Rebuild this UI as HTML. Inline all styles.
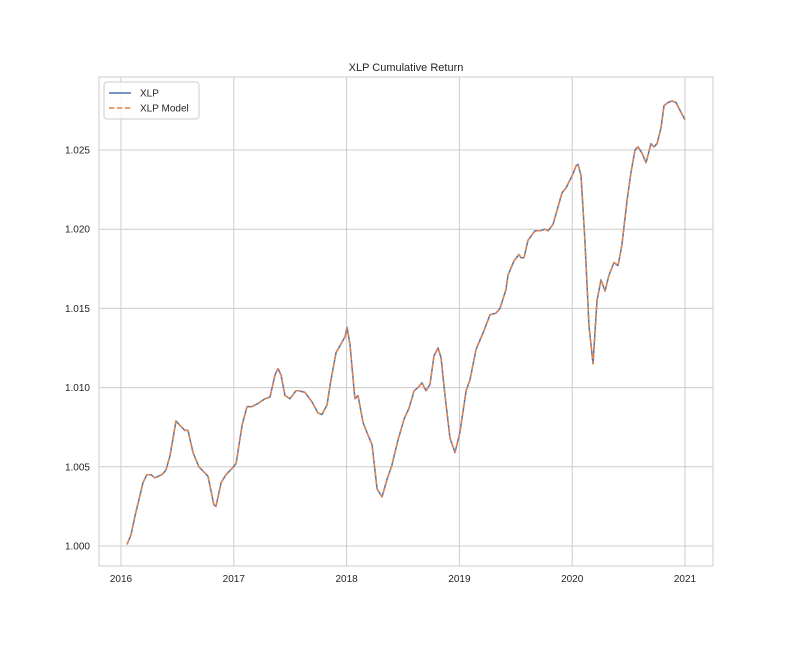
<!DOCTYPE html>
<html><head><meta charset="utf-8"><style>
body{margin:0;background:#fff;}
svg{display:block;font-family:"Liberation Sans",Arial,sans-serif;}
</style></head><body>
<svg id="chart" width="792" height="648"></svg>
<script>
const dates=[2016.053,2016.089,2016.124,2016.168,2016.195,2016.230,2016.266,2016.301,2016.328,2016.363,2016.399,2016.434,2016.488,2016.523,2016.567,2016.594,2016.638,2016.691,2016.745,2016.771,2016.824,2016.842,2016.887,2016.931,2016.984,2017.020,2017.073,2017.117,2017.161,2017.215,2017.277,2017.321,2017.365,2017.392,2017.418,2017.454,2017.498,2017.551,2017.578,2017.631,2017.693,2017.746,2017.782,2017.826,2017.862,2017.906,2017.986,2018.004,2018.030,2018.074,2018.101,2018.145,2018.190,2018.225,2018.270,2018.314,2018.358,2018.402,2018.456,2018.509,2018.553,2018.598,2018.633,2018.668,2018.704,2018.739,2018.775,2018.810,2018.837,2018.872,2018.917,2018.961,2019.005,2019.059,2019.094,2019.147,2019.218,2019.271,2019.324,2019.360,2019.413,2019.431,2019.484,2019.528,2019.546,2019.573,2019.608,2019.670,2019.715,2019.759,2019.786,2019.830,2019.874,2019.910,2019.945,2019.980,2020.007,2020.034,2020.051,2020.078,2020.113,2020.149,2020.184,2020.220,2020.255,2020.291,2020.326,2020.371,2020.406,2020.441,2020.486,2020.521,2020.557,2020.583,2020.619,2020.654,2020.699,2020.725,2020.752,2020.787,2020.814,2020.849,2020.885,2020.920,2020.964,2021.000];
const xlp=[1.0001,1.0007,1.0019,1.0032,1.0040,1.0045,1.0045,1.0043,1.0044,1.0045,1.0048,1.0057,1.0079,1.0076,1.0073,1.0073,1.0059,1.0050,1.0046,1.0044,1.0026,1.0025,1.0040,1.0045,1.0049,1.0052,1.0076,1.0088,1.0088,1.0090,1.0093,1.0094,1.0108,1.0112,1.0108,1.0095,1.0093,1.0098,1.0098,1.0097,1.0091,1.0084,1.0083,1.0089,1.0105,1.0122,1.0132,1.0138,1.0127,1.0093,1.0095,1.0078,1.0070,1.0064,1.0036,1.0031,1.0042,1.0051,1.0067,1.0080,1.0087,1.0098,1.0100,1.0103,1.0098,1.0102,1.0120,1.0125,1.0119,1.0095,1.0068,1.0059,1.0072,1.0098,1.0105,1.0124,1.0136,1.0146,1.0147,1.0150,1.0162,1.0171,1.0180,1.0184,1.0182,1.0182,1.0193,1.0199,1.0199,1.0200,1.0199,1.0203,1.0214,1.0223,1.0226,1.0231,1.0235,1.0240,1.0241,1.0234,1.0193,1.0139,1.0115,1.0155,1.0168,1.0161,1.0171,1.0179,1.0177,1.0190,1.0218,1.0236,1.0250,1.0252,1.0248,1.0242,1.0254,1.0252,1.0254,1.0264,1.0278,1.0280,1.0281,1.0280,1.0274,1.0269];
const xlpModel=xlp.slice();
const yTicks=[1.000,1.005,1.010,1.015,1.020,1.025];
const xTicks=[2016,2017,2018,2019,2020,2021];

const NS='http://www.w3.org/2000/svg';
const svg=document.getElementById('chart');
const L=99,R=713,T=77,B=566;
const xs=v=>121+(v-2016)*112.8;
const ys=v=>546-(v-1)*15840;
function mk(tag,attrs,parent){const e=document.createElementNS(NS,tag);for(const k in attrs)e.setAttribute(k,attrs[k]);(parent||svg).appendChild(e);return e;}

const grid=mk('g',{});


yTicks.forEach(t=>{
  const l=mk('line',{x1:L,x2:R,y1:ys(t),y2:ys(t),stroke:'#cccccc','stroke-width':1},grid);
  
  
  const tx=mk('text',{x:L-9,y:ys(t)+3.5,'text-anchor':'end','font-size':10,fill:'#262626'});
  tx.textContent=t.toFixed(3);
  
  
});
xTicks.forEach(t=>{
  const l=mk('line',{x1:xs(t),x2:xs(t),y1:T,y2:B,stroke:'#cccccc','stroke-width':1},grid);
  
  
  const tx=mk('text',{x:xs(t),y:B+16,'text-anchor':'middle','font-size':10,fill:'#262626'});
  tx.textContent=String(t);
  
  
});
const frame=mk('rect',{x:L,y:T,width:R-L,height:B-T,fill:'none',stroke:'#cccccc','stroke-width':1});



function pts(arr){return arr.map((v,i)=>xs(dates[i]).toFixed(1)+','+ys(v).toFixed(1)).join(' ');}
const s1=mk('polyline',{points:pts(xlp),fill:'none',stroke:'#4c72b0','stroke-width':1.5,'stroke-linejoin':'round'});


const s2=mk('polyline',{points:pts(xlpModel),fill:'none',stroke:'#dd8452','stroke-width':1.5,'stroke-dasharray':'5.5,2.4','stroke-linejoin':'round'});



const title=mk('text',{x:(L+R)/2,y:71,'text-anchor':'middle','font-size':11,fill:'#262626'});
title.textContent='XLP Cumulative Return';



const lg=mk('g',{});


mk('rect',{x:104,y:82,width:95,height:37,rx:3,fill:'#fff','fill-opacity':0.8,stroke:'#cccccc'},lg);
const e1=mk('line',{x1:109,x2:131,y1:93,y2:93,stroke:'#4c72b0','stroke-width':1.5},lg);


const t1=mk('text',{x:140,y:96.5,'font-size':10,fill:'#262626'},lg);
t1.textContent='XLP';


const e2=mk('line',{x1:109,x2:131,y1:108,y2:108,stroke:'#dd8452','stroke-width':1.5,'stroke-dasharray':'5.5,2.4'},lg);


const t2=mk('text',{x:140,y:111.5,'font-size':10,fill:'#262626'},lg);
t2.textContent='XLP Model';


</script>
</body></html>
